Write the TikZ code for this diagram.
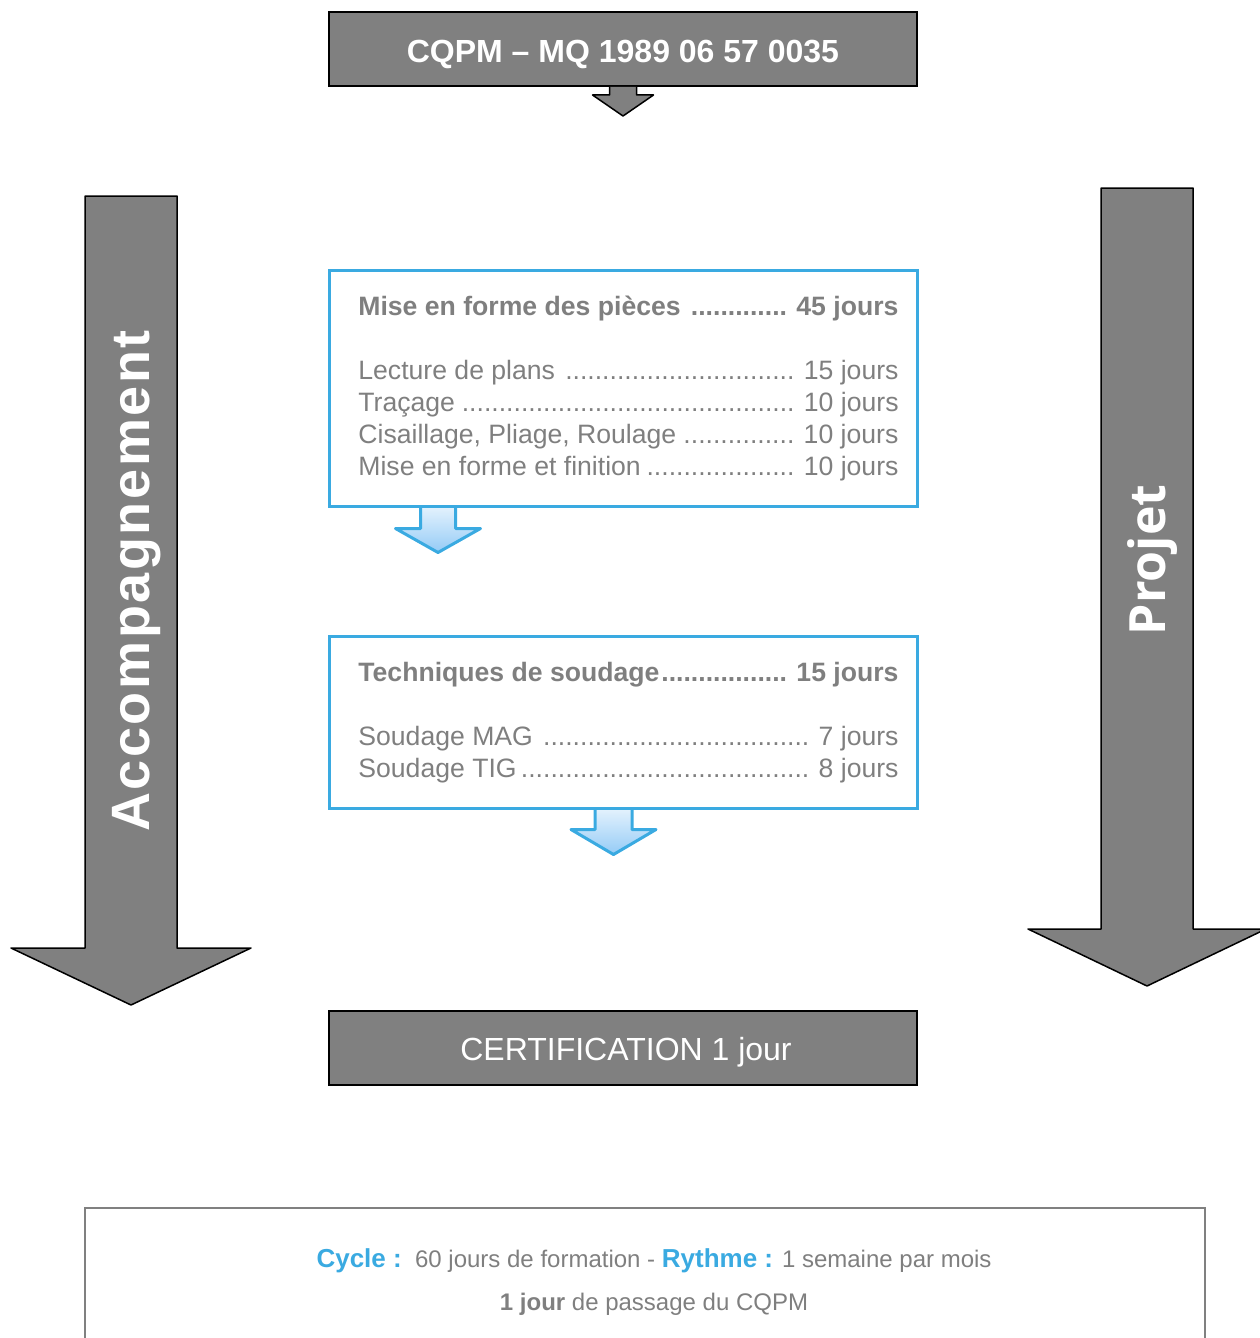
\documentclass[tikz,border=0pt]{standalone}
\usepackage{fontspec}
\setmainfont{Liberation Sans}
\newfontfamily\projfont{Open Sans}
\usetikzlibrary{backgrounds}
\definecolor{boxgray}{HTML}{808080}
\definecolor{cblue}{HTML}{3AAAE1}
\definecolor{tgray}{HTML}{7F7F7F}
\definecolor{arrtop}{HTML}{E2F1FD}
\definecolor{arrbot}{HTML}{94CBF6}
\newcommand\dotrow[2]{\hbox to 270pt{#1\leaders\hbox{.}\hfill#2}}
\newcommand\dotrowb[2]{\hbox to 270pt{\bfseries#1\leaders\hbox{.}\hfill#2}}
\begin{document}
\begin{tikzpicture}[x=0.5pt,y=-0.5pt,
  graybox/.style={draw=black, line width=1pt, fill=boxgray, minimum width=294pt,
    minimum height=37pt, inner sep=0pt, text=white},
  bluebox/.style={draw=cblue, line width=1.5pt, fill=none, minimum width=294pt, inner sep=0pt},
  boxtxt/.style={inner sep=0pt, text=tgray, font=\fontsize{13.3}{16}\selectfont, anchor=base west},
  grayarrow/.style={draw=black, line width=0.75pt, fill=boxgray, line join=round},
  bluearrow/.style={draw=cblue, line width=1.5pt, top color=arrtop, bottom color=arrbot, line join=round},
  infobox/.style={draw=boxgray, line width=1pt, minimum width=560pt, minimum height=80pt, inner sep=0pt},
  infotxt/.style={inner sep=0pt, text=tgray, font=\fontsize{12}{14}\selectfont, anchor=base}
]
\useasboundingbox (0,0) rectangle (1259,1338);

% title
\node[graybox, text height=14pt, text depth=0pt, font=\bfseries\fontsize{16}{19}\selectfont] (top) at (623,49) {CQPM – MQ 1989 06 57 0035};
\draw[grayarrow] (top.south) ++(-13.5,0) -- ++(0,8) -- ++(-17,0) -- ++(30.5,21)
  -- ++(30.5,-21) -- ++(-17,0) -- ++(0,-8);

% big side arrows
\draw[grayarrow] (85,196) -- (177,196) -- (177,948) -- (251,948) -- (131,1005)
  -- (11,948) -- (85,948) -- cycle;
\node[rotate=90, text=white, inner sep=0pt,
  font=\bfseries\fontsize{27}{30}\selectfont\addfontfeatures{LetterSpace=4.8}] (acc) at (137,581) {Accompagnement};
\draw[grayarrow] (1101,188) -- (1193,188) -- (1193,929) -- (1266,929) -- (1147,986)
  -- (1028,929) -- (1101,929) -- cycle;
\node[rotate=90, text=white, inner sep=0pt,
  font=\projfont\bfseries\fontsize{25}{28}\selectfont] (proj) at (1152,560) {Projet};

% module 1
\node[bluebox, minimum height=118pt] (m1) at (623,388) {};
\node[boxtxt] (m1t) at (358,315) {\vtop{%
  \dotrowb{Mise en forme des pièces }{ 45 jours}
  \hbox{}
  \dotrow{Lecture de plans }{ 15 jours}
  \dotrow{Traçage}{ 10 jours}
  \dotrow{Cisaillage, Pliage, Roulage}{ 10 jours}
  \dotrow{Mise en forme et finition}{ 10 jours}}};
\begin{scope}[on background layer]
\draw[bluearrow] (m1.south west) ++(93,0) -- ++(0,21) -- ++(-25,0) -- ++(42.5,24)
  -- ++(42.5,-24) -- ++(-25,0) -- ++(0,-21);
\end{scope}

% module 2
\node[bluebox, minimum height=86pt] (m2) at (623,722) {};
\node[boxtxt] (m2t) at (358,681) {\vtop{%
  \dotrowb{Techniques de soudage}{ 15 jours}
  \hbox{}
  \dotrow{Soudage MAG }{ 7 jours}
  \dotrow{Soudage TIG}{ 8 jours}}};
\begin{scope}[on background layer]
\draw[bluearrow] (m2.south west) ++(267.5,0) -- ++(0,20) -- ++(-24,0) -- ++(42.5,25)
  -- ++(42.5,-25) -- ++(-24,0) -- ++(0,-20);
\end{scope}

% certification
\node[graybox, text height=12.5pt, text depth=0pt, font=\fontsize{16}{19}\selectfont] (cert) at (623,1047.5) {\hspace*{3pt}CERTIFICATION 1 jour};

% info box
\node[infobox] (info) at (645,1288) {};
\node[infotxt] (info1) at (654,1267) {{\color{cblue}\bfseries\fontsize{13}{16}\selectfont Cycle :}\ \ 60 jours de formation - {\color{cblue}\bfseries\fontsize{13}{16}\selectfont Rythme :} 1 semaine par mois};
\node[infotxt] (info2) at (654,1310) {\textbf{1 jour} de passage du CQPM};
\end{tikzpicture}
\end{document}
